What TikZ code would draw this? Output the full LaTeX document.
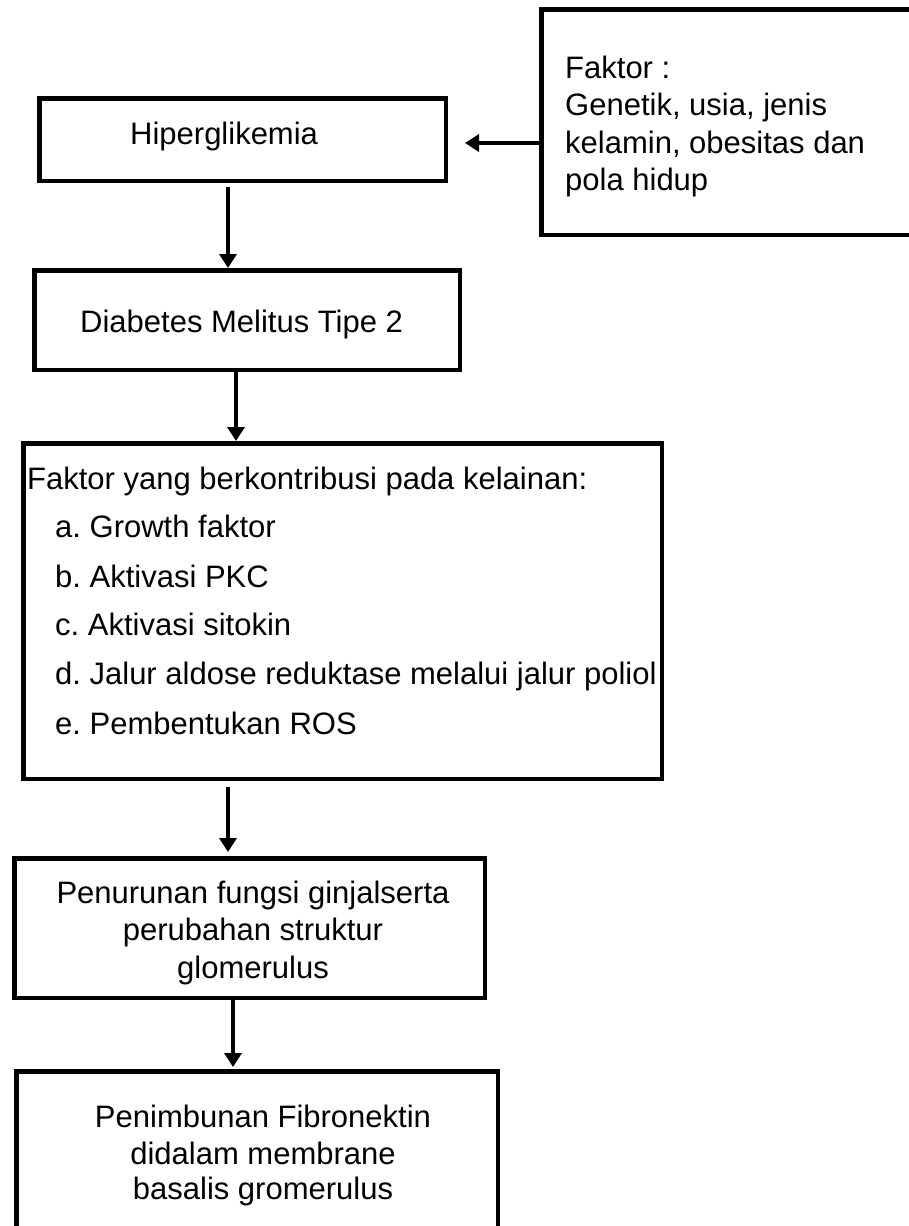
\documentclass[tikz,border=0pt]{standalone}
\usepackage{fontspec}
\setmainfont{Liberation Sans}
\usetikzlibrary{arrows.meta,calc}
\frenchspacing
\begin{document}
\begin{tikzpicture}[x=1pt,y=-1pt,
  box/.style={draw=black,line width=4.5pt,rectangle,inner sep=0pt,fill=none},
  txt/.style={inner sep=0pt,font=\fontsize{31}{37.5}\selectfont\frenchspacing},
  lt/.style={txt,anchor=base west},
  ct/.style={txt,anchor=base},
  arr/.style={line width=3.5pt,-{Triangle[width=17pt,length=14pt]}}]
\useasboundingbox (0,0) rectangle (909,1226);
\fill[white] (0,0) rectangle (909,1226);
% boxes
\node[box,minimum width=406.5pt,minimum height=82.5pt] (hip) at (242.5,139.5) {};
\node[box,minimum width=381.5pt,minimum height=225.5pt] (fak) at (732,122) {};
\node[box,minimum width=425.5pt,minimum height=99.5pt] (diab) at (247,320) {};
\node[box,minimum width=638.5pt,minimum height=335.5pt] (big) at (342.5,611) {};
\node[box,minimum width=470.5pt,minimum height=139.5pt] (pen) at (249.5,928) {};
\node[box,minimum width=481.5pt,minimum height=166.5pt] (pim) at (257,1154.5) {};
% texts
\node[lt] (thip) at (130,144) {Hiperglikemia};
\node[lt] (tf1) at (565,78) {Faktor :};
\node[lt] (tf2) at (565,115) {Genetik, usia, jenis};
\node[lt] (tf3) at (565,153) {kelamin, obesitas dan};
\node[lt] (tf4) at (565,190) {pola hidup};
\node[lt] (tdiab) at (80,332) {Diabetes Melitus Tipe 2};
\node[lt] (tb0) at (27,489) {Faktor yang berkontribusi pada kelainan:};
\node[lt] (tb1) at (55,537) {a. Growth faktor};
\node[lt] (tb2) at (55,587) {b. Aktivasi PKC};
\node[lt] (tb3) at (55,635) {c. Aktivasi sitokin};
\node[lt] (tb4) at (55,684) {d. Jalur aldose reduktase melalui jalur poliol};
\node[lt] (tb5) at (55,734) {e. Pembentukan ROS};
\node[ct] (tp1) at (253,903) {Penurunan fungsi ginjalserta};
\node[ct] (tp2) at (253,940) {perubahan struktur};
\node[ct] (tp3) at (253,978) {glomerulus};
\node[ct] (tq1) at (263,1127) {Penimbunan Fibronektin};
\node[ct] (tq2) at (263,1164) {didalam membrane};
\node[ct] (tq3) at (263,1199) {basalis gromerulus};
% connector guides
\coordinate (x1) at (228,0);
\coordinate (x2) at (236,0);
\coordinate (x3) at (228,0);
\coordinate (x4) at (233,0);
\coordinate (y0) at (0,143);
% connectors
\draw[arr] ($(hip.south -| x1)+(0,4)$) -- (diab.north -| x1);
\draw[arr] (diab.south -| x2) -- (big.north -| x2);
\draw[arr] ($(big.south -| x3)+(0,6)$) -- ($(pen.north -| x3)+(0,-4)$);
\draw[arr] (pen.south -| x4) -- ($(pim.north -| x4)+(0,-2)$);
\draw[arr] (fak.west |- y0) -- ($(hip.east |- y0)+(17,0)$);
\end{tikzpicture}
\end{document}
